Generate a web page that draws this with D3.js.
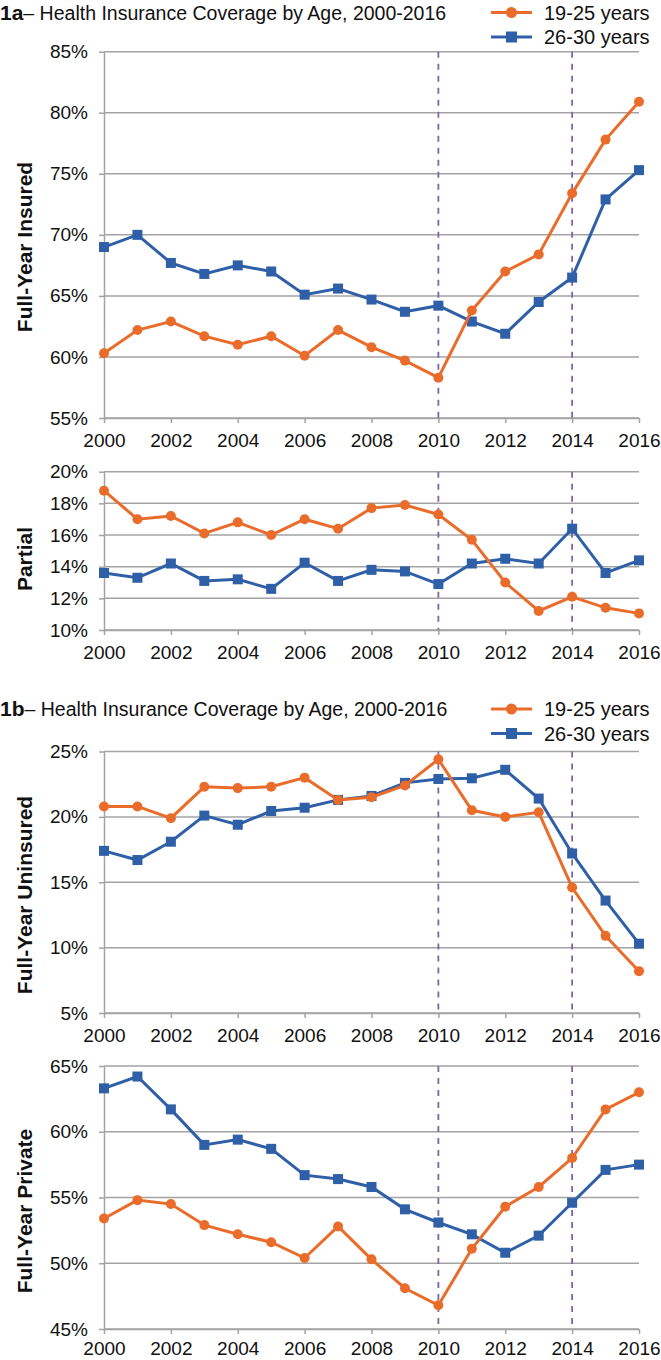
<!DOCTYPE html>
<html>
<head>
<meta charset="utf-8">
<script src="https://cdn.jsdelivr.net/npm/d3@7"></script>
<style>
  body { margin: 0; background: #fff; }
  text { font-family: "Liberation Sans", Arial, sans-serif; fill: #111; }
</style>
</head>
<body>
<div id="chart"></div>
<script>
// categories
const years = [2000, 2001, 2002, 2003, 2004, 2005, 2006, 2007, 2008, 2009, 2010, 2011, 2012, 2013, 2014, 2015, 2016];
const yearTicks = [2000, 2002, 2004, 2006, 2008, 2010, 2012, 2014, 2016];
const policyYears = [2010, 2014];
const seriesNames = ["19-25 years", "26-30 years"];

// Full-Year Insured (%)
const insuredYoung = [60.3, 62.2, 62.9, 61.7, 61.0, 61.7, 60.1, 62.2, 60.8, 59.7, 58.3, 63.8, 67.0, 68.4, 73.4, 77.8, 80.9];
const insuredOld   = [69.0, 70.0, 67.7, 66.8, 67.5, 67.0, 65.1, 65.6, 64.7, 63.7, 64.2, 62.9, 61.9, 64.5, 66.5, 72.9, 75.3];
const insuredTicks = [55, 60, 65, 70, 75, 80, 85];

// Partial (%)
const partialYoung = [18.8, 17.0, 17.2, 16.1, 16.8, 16.0, 17.0, 16.4, 17.7, 17.9, 17.3, 15.7, 13.0, 11.2, 12.1, 11.4, 11.05];
const partialOld   = [13.6, 13.3, 14.2, 13.1, 13.2, 12.6, 14.25, 13.1, 13.8, 13.7, 12.9, 14.2, 14.5, 14.2, 16.4, 13.6, 14.4];
const partialTicks = [10, 12, 14, 16, 18, 20];

// Full-Year Uninsured (%)
const uninsuredYoung = [20.8, 20.8, 19.9, 22.3, 22.2, 22.3, 23.0, 21.3, 21.5, 22.4, 24.4, 20.5, 20.0, 20.35, 14.6, 10.9, 8.2];
const uninsuredOld   = [17.4, 16.7, 18.1, 20.1, 19.4, 20.45, 20.7, 21.3, 21.6, 22.6, 22.9, 22.95, 23.6, 21.4, 17.2, 13.6, 10.3];
const uninsuredTicks = [5, 10, 15, 20, 25];

// Full-Year Private (%)
const privateYoung = [53.4, 54.8, 54.5, 52.9, 52.2, 51.6, 50.4, 52.8, 50.3, 48.1, 46.8, 51.1, 54.3, 55.8, 58.0, 61.7, 63.0];
const privateOld   = [63.3, 64.2, 61.7, 59.0, 59.4, 58.7, 56.7, 56.4, 55.8, 54.1, 53.1, 52.2, 50.8, 52.1, 54.6, 57.1, 57.5];
const privateTicks = [45, 50, 55, 60, 65];

const orange = "#e96c2b",
      blue = "#2f5fa7",
      grid = "#a3a3a3",
      dash = "#7d66a8";

const width = 661, height = 1360;
const left = 104, right = 639;

let svg = d3.select("#chart")
    .append("svg")
    .attr("width", width)
    .attr("height", height);

let x = d3.scaleLinear().domain([2000, 2016]).range([left, right]);

// panel layout (top/bottom of each plot area)
const panels = [
    { title: "Full-Year Insured",   young: insuredYoung,   old: insuredOld,   ticks: insuredTicks,   top: 51.7,  bottom: 418,  labelY: 247,  pad: 11 },
    { title: "Partial",             young: partialYoung,   old: partialOld,   ticks: partialTicks,   top: 471.7, bottom: 630,  labelY: 559,  pad: 11 },
    { title: "Full-Year Uninsured", young: uninsuredYoung, old: uninsuredOld, ticks: uninsuredTicks, top: 751.5, bottom: 1013, labelY: 895,  pad: 11 },
    { title: "Full-Year Private",   young: privateYoung,   old: privateOld,   ticks: privateTicks,   top: 1066,  bottom: 1329, labelY: 1211, pad: 8 }
];

panels.forEach(function(p) {
    let y = d3.scaleLinear()
        .domain(d3.extent(p.ticks))
        .range([p.bottom, p.top]);

    let g = svg.append("g");

    // gridlines
    g.selectAll(null)
        .data(p.ticks)
        .enter()
        .append("line")
        .attr("x1", left)
        .attr("x2", right)
        .attr("y1", function(d) { return y(d); })
        .attr("y2", function(d) { return y(d); })
        .attr("stroke", grid)
        .attr("stroke-width", 1.5);

    // policy year markers
    g.selectAll(null)
        .data(policyYears)
        .enter()
        .append("line")
        .attr("x1", function(d) { return x(d); })
        .attr("x2", function(d) { return x(d); })
        .attr("y1", p.top)
        .attr("y2", p.bottom)
        .attr("stroke", dash)
        .attr("stroke-width", 1.8)
        .attr("stroke-dasharray", "6,6");

    // axes
    let yAxis = g.append("g")
        .attr("transform", "translate(" + left + ",0)")
        .call(d3.axisLeft(y).tickValues(p.ticks).tickSize(5).tickSizeOuter(0).tickPadding(11)
            .tickFormat(function(d) { return d + "%"; }));

    let xAxis = g.append("g")
        .attr("transform", "translate(0," + p.bottom + ")")
        .call(d3.axisBottom(x).tickValues(yearTicks).tickSize(5).tickSizeOuter(0).tickPadding(p.pad)
            .tickFormat(d3.format("d")));

    [yAxis, xAxis].forEach(function(a) {
        a.selectAll("path, line").attr("stroke", grid).attr("stroke-width", 1.5);
        a.selectAll("text").attr("font-size", "19px").attr("fill", "#111")
            .attr("font-family", "'Liberation Sans', Arial, sans-serif");
    });

    // y axis title
    g.append("text")
        .attr("transform", "translate(24," + p.labelY + ") rotate(-90)")
        .attr("text-anchor", "middle")
        .attr("dominant-baseline", "central")
        .attr("font-size", "21px")
        .attr("font-weight", "bold")
        .text(p.title);

    let line = d3.line()
        .x(function(d, i) { return x(years[i]); })
        .y(function(d) { return y(d); });

    // 26-30 years
    g.append("path")
        .datum(p.old)
        .attr("d", line)
        .attr("fill", "none")
        .attr("stroke", blue)
        .attr("stroke-width", 3);

    g.selectAll(null)
        .data(p.old)
        .enter()
        .append("rect")
        .attr("x", function(d, i) { return x(years[i]) - 5; })
        .attr("y", function(d) { return y(d) - 5; })
        .attr("width", 10)
        .attr("height", 10)
        .attr("fill", blue);

    // 19-25 years
    g.append("path")
        .datum(p.young)
        .attr("d", line)
        .attr("fill", "none")
        .attr("stroke", orange)
        .attr("stroke-width", 3);

    g.selectAll(null)
        .data(p.young)
        .enter()
        .append("circle")
        .attr("cx", function(d, i) { return x(years[i]); })
        .attr("cy", function(d) { return y(d); })
        .attr("r", 5)
        .attr("fill", orange);
});

// figure titles + legends
const headers = [
    { tag: "1a", base: 19.5 },
    { tag: "1b", base: 716 }
];

headers.forEach(function(h) {
    let t = svg.append("text")
        .attr("x", 0)
        .attr("y", h.base);
    t.append("tspan")
        .attr("font-size", "21px")
        .attr("font-weight", "bold")
        .text(h.tag);
    t.append("tspan")
        .attr("font-size", "19.5px")
        .text("\u2013 Health Insurance Coverage by Age, 2000-2016");

    let lg = svg.append("g");
    seriesNames.forEach(function(name, i) {
        let cy = h.base - 7 + i * 24.5;
        let col = i === 0 ? orange : blue;
        lg.append("line")
            .attr("x1", 491).attr("x2", 532)
            .attr("y1", cy).attr("y2", cy)
            .attr("stroke", col)
            .attr("stroke-width", 3);
        if (i === 0) {
            lg.append("circle").attr("cx", 511.5).attr("cy", cy).attr("r", 5.5).attr("fill", col);
        } else {
            lg.append("rect").attr("x", 506).attr("y", cy - 5.5).attr("width", 11).attr("height", 11).attr("fill", col);
        }
        lg.append("text")
            .attr("x", 544)
            .attr("y", cy + 7)
            .attr("font-size", "20px")
            .text(name);
    });
});
</script>
</body>
</html>
